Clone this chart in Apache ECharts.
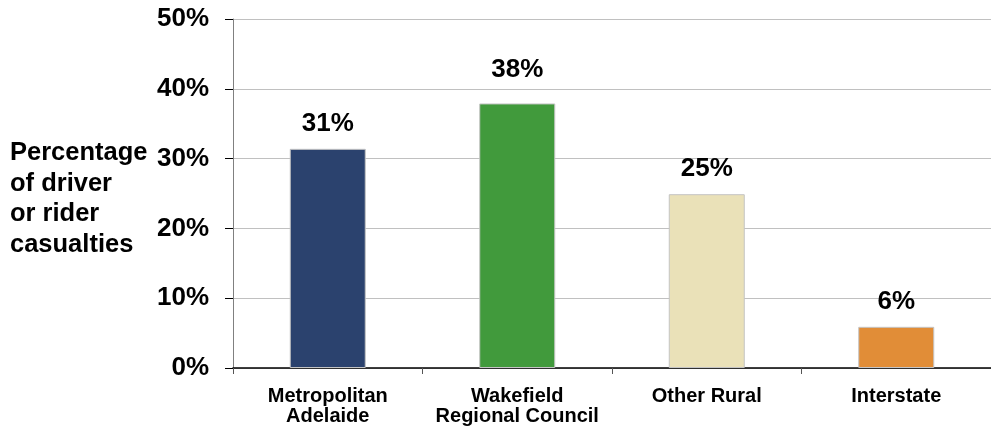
<!DOCTYPE html>
<html><head><meta charset="utf-8">
<script src="https://cdn.jsdelivr.net/npm/echarts@6/dist/echarts.min.js"></script>
<style>html,body{margin:0;padding:0;background:#fff;overflow:hidden}#c{width:991px;height:431px}</style>
</head><body><div id="c"></div>
<script>
var categories = ['Metropolitan\nAdelaide', 'Wakefield\nRegional Council', 'Other Rural', 'Interstate'];
var values = [31.4, 37.9, 24.9, 5.9];
var labels = ['31%', '38%', '25%', '6%'];
var colors = ['#2B426E', '#419A3C', '#EAE1B8', '#E18D37'];
var yTicks = [0, 10, 20, 30, 40, 50];

var chart = echarts.init(document.getElementById('c'), null, {renderer: 'canvas'});
chart.setOption({
  animation: false,
  grid: {left: 233, top: 19, width: 764, height: 349},
  xAxis: {
    type: 'category', data: categories,
    axisLine: {lineStyle: {color: '#000', width: 1.5}},
    axisTick: {show: true, length: 6, interval: 0, lineStyle: {color: '#555'}},
    axisLabel: {interval: 0, color: '#000', fontFamily: 'Liberation Sans, Arial', fontWeight: 'bold', fontSize: 20, lineHeight: 19.5, margin: 19}
  },
  yAxis: {
    type: 'value', min: 0, max: 50, interval: 10,
    axisLine: {show: true, lineStyle: {color: '#808080'}},
    axisTick: {show: true, length: 8, lineStyle: {color: '#000'}},
    splitLine: {lineStyle: {color: '#C0C0C0'}},
    axisLabel: {color: '#000', fontFamily: 'Liberation Sans, Arial', fontWeight: 'bold', fontSize: 26, margin: 24,
      formatter: function (v) { return v + '%'; }}
  },
  graphic: [{
    type: 'text', left: 10, top: 138,
    style: {text: 'Percentage\nof driver\nor rider\ncasualties', fill: '#000',
      font: 'bold 25.5px "Liberation Sans", Arial', lineHeight: 30.5}
  }],
  series: [{
    type: 'bar', barWidth: 76,
    data: values.map(function (v, i) {
      return {value: v, itemStyle: {color: colors[i]},
        label: {formatter: labels[i], distance: i === 1 ? 21 : 12}};
    }),
    itemStyle: {borderColor: '#C4C4C4', borderWidth: 1},
    label: {show: true, position: 'top', color: '#000',
      fontFamily: 'Liberation Sans, Arial', fontWeight: 'bold', fontSize: 26}
  }]
});
</script></body></html>
